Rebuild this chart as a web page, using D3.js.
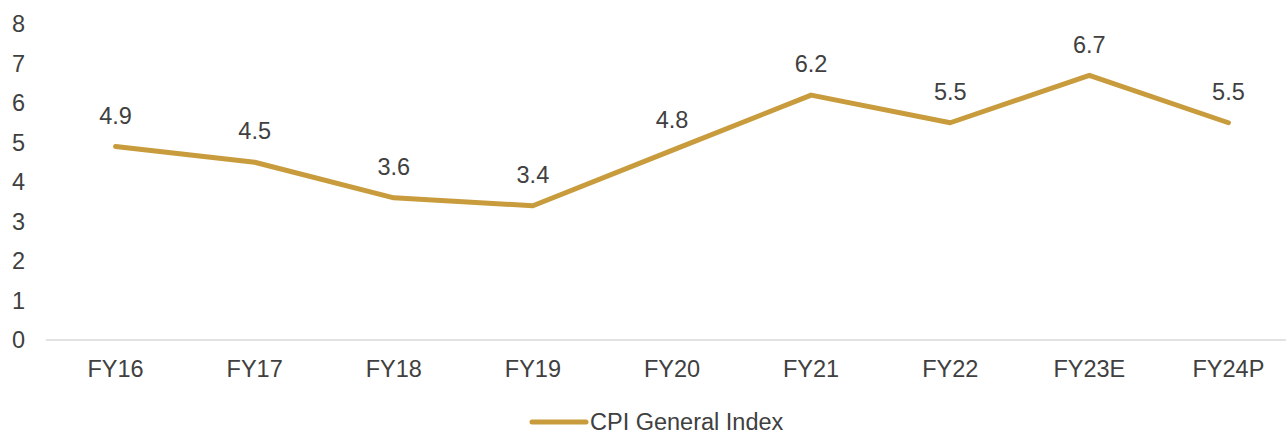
<!DOCTYPE html>
<html>
<head>
<style>
	body { margin: 0; background: #fff; }
	#chart { width: 1286px; height: 435px; }
	text { font-family: "Liberation Sans", Arial, sans-serif; fill: #404040; }
</style>
<script src="https://d3js.org/d3.v7.min.js"></script>
</head>
<body>
<div id="chart"></div>
<script>
	// Data
	var categories = ["FY16", "FY17", "FY18", "FY19", "FY20", "FY21", "FY22", "FY23E", "FY24P"];
	var cpiValues = [4.9, 4.5, 3.6, 3.4, 4.8, 6.2, 5.5, 6.7, 5.5];
	var yTicks = [0, 1, 2, 3, 4, 5, 6, 7, 8];
	var seriesName = "CPI General Index";
	var lineColor = "#C89B3C";
	const fontSize = "23.5px";

	var width = 1286, height = 435;
	var svg = d3.select("#chart").append("svg")
		.attr("width", width)
		.attr("height", height);

	var x = d3.scaleBand().domain(categories).range([46, 1298]);
	var y = d3.scaleLinear().domain([0, 8]).range([340, 24]);

	// y labels (no axis line)
	svg.selectAll(".ylab")
		.data(yTicks)
		.enter().append("text")
		.attr("class", "ylab")
		.attr("x", 25)
		.attr("y", function(d) { return y(d); })
		.attr("dy", "0.35em")
		.attr("text-anchor", "end")
		.attr("font-size", fontSize)
		.text(function(d) { return d; });

	// x axis line
	svg.append("line")
		.attr("x1", 46).attr("x2", width)
		.attr("y1", y(0)).attr("y2", y(0))
		.attr("stroke", "#d9d9d9")
		.attr("stroke-width", 1.5);

	// category labels
	svg.selectAll(".xlab")
		.data(categories)
		.enter().append("text")
		.attr("class", "xlab")
		.attr("x", function(d) { return x(d) + x.bandwidth() / 2; })
		.attr("y", 369)
		.attr("dy", "0.35em")
		.attr("text-anchor", "middle")
		.attr("font-size", fontSize)
		.text(function(d) { return d; });

	// line
	var line = d3.line()
		.x(function(d, i) { return x(categories[i]) + x.bandwidth() / 2; })
		.y(function(d) { return y(d); });

	svg.append("path")
		.datum(cpiValues)
		.attr("d", line)
		.attr("fill", "none")
		.attr("stroke", lineColor)
		.attr("stroke-width", 5)
		.attr("stroke-linecap", "round")
		.attr("stroke-linejoin", "round");

	// data labels
	svg.selectAll(".vlab")
		.data(cpiValues)
		.enter().append("text")
		.attr("class", "vlab")
		.attr("x", function(d, i) { return x(categories[i]) + x.bandwidth() / 2; })
		.attr("y", function(d) { return y(d) - 31; })
		.attr("dy", "0.35em")
		.attr("text-anchor", "middle")
		.attr("font-size", fontSize)
		.text(function(d) { return d.toFixed(1); });

	// legend (kept a little above the bottom edge)
	var legend = svg.append("g").attr("transform", "translate(532,422)");
	legend.append("line")
		.attr("x1", 0).attr("x2", 54)
		.attr("stroke", lineColor)
		.attr("stroke-width", 5)
		.attr("stroke-linecap", "round");
	legend.append("text")
		.attr("x", 58)
		.attr("dy", "0.35em")
		.attr("font-size", "23.5px")
		.text(seriesName);
</script>
</body>
</html>
